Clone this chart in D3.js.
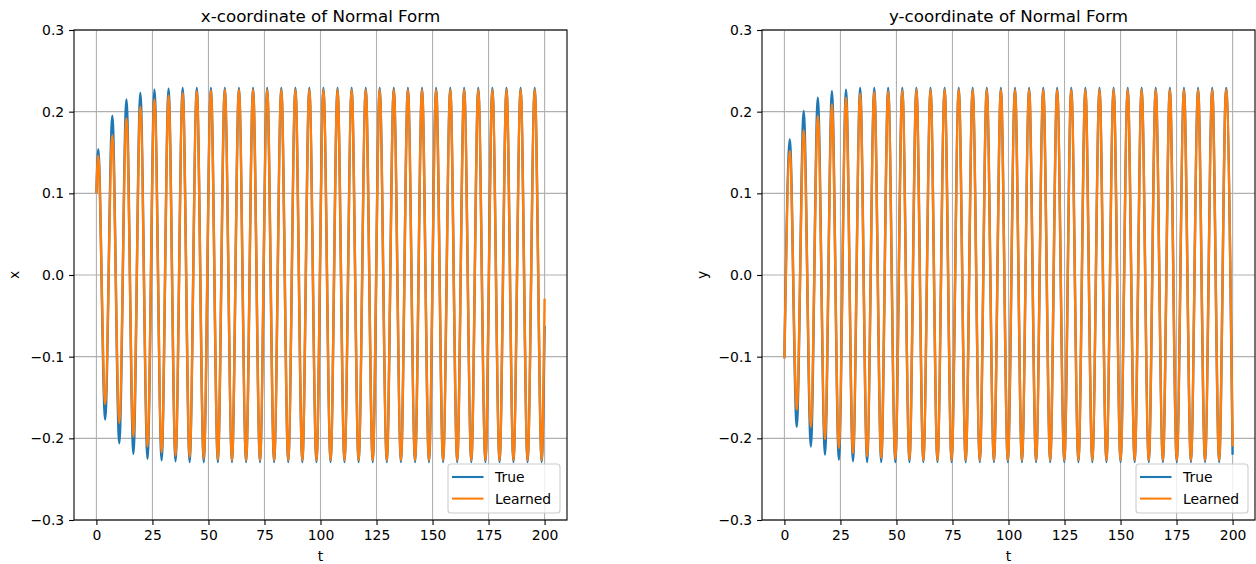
<!DOCTYPE html>
<html>
<head>
<meta charset="utf-8">
<script src="https://cdn.jsdelivr.net/npm/d3@7"></script>
<style>
  body { margin: 0; background: #fff; }
  svg { font-family: "DejaVu Sans", sans-serif; }
</style>
</head>
<body>
<div id="chart"></div>
<script>
'use strict';

// Tick values shared by both panels
const xTicks = [0, 25, 50, 75, 100, 125, 150, 175, 200];
const yTicks = [-0.3, -0.2, -0.1, 0.0, 0.1, 0.2, 0.3];
const seriesNames = ['True', 'Learned'];

// x-coordinate: start, every peak / trough, end
const xTimes = [0,
  0.8, 3.9, 7.1, 10.2, 13.4, 16.5, 19.6, 22.8, 25.9, 29.1,
  32.2, 35.3, 38.5, 41.6, 44.8, 47.9, 51.1, 54.2, 57.3, 60.5,
  63.6, 66.8, 69.9, 73.0, 76.2, 79.3, 82.5, 85.6, 88.8, 91.9,
  95.0, 98.2, 101.3, 104.5, 107.6, 110.7, 113.9, 117.0, 120.2, 123.3,
  126.4, 129.6, 132.7, 135.9, 139.0, 142.2, 145.3, 148.4, 151.6, 154.7,
  157.9, 161.0, 164.1, 167.3, 170.4, 173.6, 176.7, 179.9, 183.0, 186.1,
  189.3, 192.4, 195.6, 198.7,
  200];

const xTrue = [0.100,
  0.154, -0.177, 0.195, -0.206, 0.215, -0.219, 0.223, -0.225,
  0.227, -0.227, 0.228, -0.228, 0.229, -0.229, 0.229, -0.229,
  0.229, -0.229, 0.229, -0.229, 0.229, -0.229, 0.229, -0.229,
  0.229, -0.229, 0.229, -0.229, 0.229, -0.229, 0.229, -0.229,
  0.229, -0.229, 0.229, -0.229, 0.229, -0.229, 0.229, -0.229,
  0.229, -0.229, 0.229, -0.229, 0.229, -0.229, 0.229, -0.229,
  0.229, -0.229, 0.229, -0.229, 0.229, -0.229, 0.229, -0.229,
  0.229, -0.229, 0.229, -0.229, 0.229, -0.229, 0.229, -0.229,
  -0.062];

const xLearned = [0.100,
  0.146, -0.158, 0.171, -0.181, 0.192, -0.198, 0.206, -0.210,
  0.215, -0.217, 0.220, -0.221, 0.223, -0.223, 0.225, -0.225,
  0.226, -0.226, 0.227, -0.227, 0.227, -0.227, 0.227, -0.227,
  0.227, -0.227, 0.227, -0.227, 0.227, -0.227, 0.227, -0.227,
  0.227, -0.227, 0.227, -0.227, 0.227, -0.227, 0.227, -0.227,
  0.227, -0.227, 0.227, -0.227, 0.227, -0.227, 0.227, -0.227,
  0.227, -0.227, 0.227, -0.227, 0.227, -0.227, 0.227, -0.227,
  0.227, -0.227, 0.227, -0.227, 0.227, -0.227, 0.227, -0.227,
  -0.029];

// y-coordinate: start, every peak / trough, end
const yTimes = [0,
  2.4, 5.5, 8.6, 11.8, 14.9, 18.1, 21.2, 24.3, 27.5, 30.6,
  33.8, 36.9, 40.1, 43.2, 46.3, 49.5, 52.6, 55.8, 58.9, 62.0,
  65.2, 68.3, 71.5, 74.6, 77.8, 80.9, 84.0, 87.2, 90.3, 93.5,
  96.6, 99.7, 102.9, 106.0, 109.2, 112.3, 115.5, 118.6, 121.7, 124.9,
  128.0, 131.2, 134.3, 137.4, 140.6, 143.7, 146.9, 150.0, 153.2, 156.3,
  159.4, 162.6, 165.7, 168.9, 172.0, 175.1, 178.3, 181.4, 184.6, 187.7,
  190.9, 194.0, 197.1,
  200];

const yTrue = [-0.102,
  0.166, -0.186, 0.201, -0.210, 0.217, -0.220, 0.225, -0.226,
  0.227, -0.228, 0.229, -0.229, 0.229, -0.229, 0.229, -0.229,
  0.229, -0.229, 0.229, -0.229, 0.229, -0.229, 0.229, -0.229,
  0.229, -0.229, 0.229, -0.229, 0.229, -0.229, 0.229, -0.229,
  0.229, -0.229, 0.229, -0.229, 0.229, -0.229, 0.229, -0.229,
  0.229, -0.229, 0.229, -0.229, 0.229, -0.229, 0.229, -0.229,
  0.229, -0.229, 0.229, -0.229, 0.229, -0.229, 0.229, -0.229,
  0.229, -0.229, 0.229, -0.229, 0.229, -0.229, 0.229,
  -0.220];

const yLearned = [-0.102,
  0.152, -0.165, 0.177, -0.186, 0.195, -0.201, 0.209, -0.212,
  0.217, -0.218, 0.222, -0.222, 0.224, -0.224, 0.225, -0.225,
  0.226, -0.226, 0.227, -0.227, 0.227, -0.227, 0.227, -0.227,
  0.227, -0.227, 0.227, -0.227, 0.227, -0.227, 0.227, -0.227,
  0.227, -0.227, 0.227, -0.227, 0.227, -0.227, 0.227, -0.227,
  0.227, -0.227, 0.227, -0.227, 0.227, -0.227, 0.227, -0.227,
  0.227, -0.227, 0.227, -0.227, 0.227, -0.227, 0.227, -0.227,
  0.227, -0.227, 0.227, -0.227, 0.227, -0.227, 0.227,
  -0.210];

const colors = ['#1f77b4', '#ff7f0e'];

// One matplotlib-like axes panel
class LinePanel {
  #x;
  #y;

  constructor(svg, box) {
    this.svg = svg;
    this.box = box; // {left, right, top, bottom}
    this.#x = d3.scaleLinear().domain([-10, 210]).range([box.left, box.right]);
    this.#y = d3.scaleLinear().domain([-0.3, 0.3]).range([box.bottom, box.top]);
    this.g = svg.append('g');
  }

  render(title, ylabel, times, series) {
    const b = this.box;
    const x = this.#x, y = this.#y;

    // grid below the lines
    const grid = this.g.append('g').attr('stroke', '#b0b0b0').attr('stroke-width', 1.1);
    grid.selectAll('line.gx').data(xTicks).join('line')
      .attr('x1', d => x(d)).attr('x2', d => x(d))
      .attr('y1', b.top).attr('y2', b.bottom);
    grid.selectAll('line.gy').data(yTicks).join('line')
      .attr('x1', b.left).attr('x2', b.right)
      .attr('y1', d => y(d)).attr('y2', d => y(d));

    // the two series
    const line = d3.line()
      .x(d => x(d[0]))
      .y(d => y(d[1]))
      .curve(d3.curveMonotoneX);
    series.forEach((vals, i) => {
      this.g.append('path')
        .datum(times.map((t, k) => [t, vals[k]]))
        .attr('d', line)
        .attr('fill', 'none')
        .attr('stroke', colors[i])
        .attr('stroke-width', 2.4)
        .attr('stroke-linejoin', 'round');
    });

    // axes
    const xAxis = this.g.append('g')
      .attr('transform', `translate(0,${b.bottom})`)
      .call(d3.axisBottom(x).tickValues(xTicks).tickSize(4.9).tickPadding(4.9).tickFormat(d3.format('d')));
    const yAxis = this.g.append('g')
      .attr('transform', `translate(${b.left},0)`)
      .call(d3.axisLeft(y).tickValues(yTicks).tickSize(4.9).tickPadding(4.9).tickFormat(d3.format('.1f')));
    [xAxis, yAxis].forEach(a => {
      a.select('.domain').remove();
      a.selectAll('line').attr('stroke', '#000').attr('stroke-width', 1.1);
      a.selectAll('text').attr('fill', '#000').attr('font-size', '13.9px')
        .attr('font-family', '"DejaVu Sans", sans-serif');
    });

    // spines
    this.g.append('rect')
      .attr('x', b.left).attr('y', b.top)
      .attr('width', b.right - b.left).attr('height', b.bottom - b.top)
      .attr('fill', 'none').attr('stroke', '#000').attr('stroke-width', 1.1);

    // title and labels
    const cx = (b.left + b.right) / 2;
    this.g.append('text')
      .attr('x', cx).attr('y', b.top - 8.5)
      .attr('text-anchor', 'middle').attr('font-size', '16.7px')
      .text(title);
    this.g.append('text')
      .attr('x', cx).attr('y', 561)
      .attr('text-anchor', 'middle').attr('font-size', '13.9px')
      .text('t');
    const ly = (b.top + b.bottom) / 2;
    this.g.append('text')
      .attr('transform', `translate(${b.left - 55},${ly}) rotate(-90)`)
      .attr('text-anchor', 'middle').attr('font-size', '13.9px')
      .text(ylabel);

    // legend in the lower right corner
    const lw = 112, lh = 49;
    const lx = b.right - 7 - lw, lyTop = b.bottom - 7 - lh;
    const leg = this.g.append('g').attr('transform', `translate(${lx},${lyTop})`);
    leg.append('rect')
      .attr('width', lw).attr('height', lh).attr('rx', 3)
      .attr('fill', 'rgba(255,255,255,0.8)').attr('stroke', '#cccccc').attr('stroke-width', 1.1);
    seriesNames.forEach((name, i) => {
      const ry = 13 + i * 21.6;
      leg.append('line')
        .attr('x1', 4).attr('x2', 35.5).attr('y1', ry).attr('y2', ry)
        .attr('stroke', colors[i]).attr('stroke-width', 2.1);
      leg.append('text')
        .attr('x', 47).attr('y', ry).attr('dy', '0.36em')
        .attr('font-size', '13.9px')
        .text(name);
    });
  }
}

const svg = d3.select('#chart').append('svg')
  .attr('width', 1256).attr('height', 564);

const leftPanel = new LinePanel(svg, {left: 74, right: 567, top: 30, bottom: 520});
leftPanel.render('x-coordinate of Normal Form', 'x', xTimes, [xTrue, xLearned]);

const rightPanel = new LinePanel(svg, {left: 762, right: 1255, top: 30, bottom: 520});
rightPanel.render('y-coordinate of Normal Form', 'y', yTimes, [yTrue, yLearned]);
</script>
</body>
</html>
